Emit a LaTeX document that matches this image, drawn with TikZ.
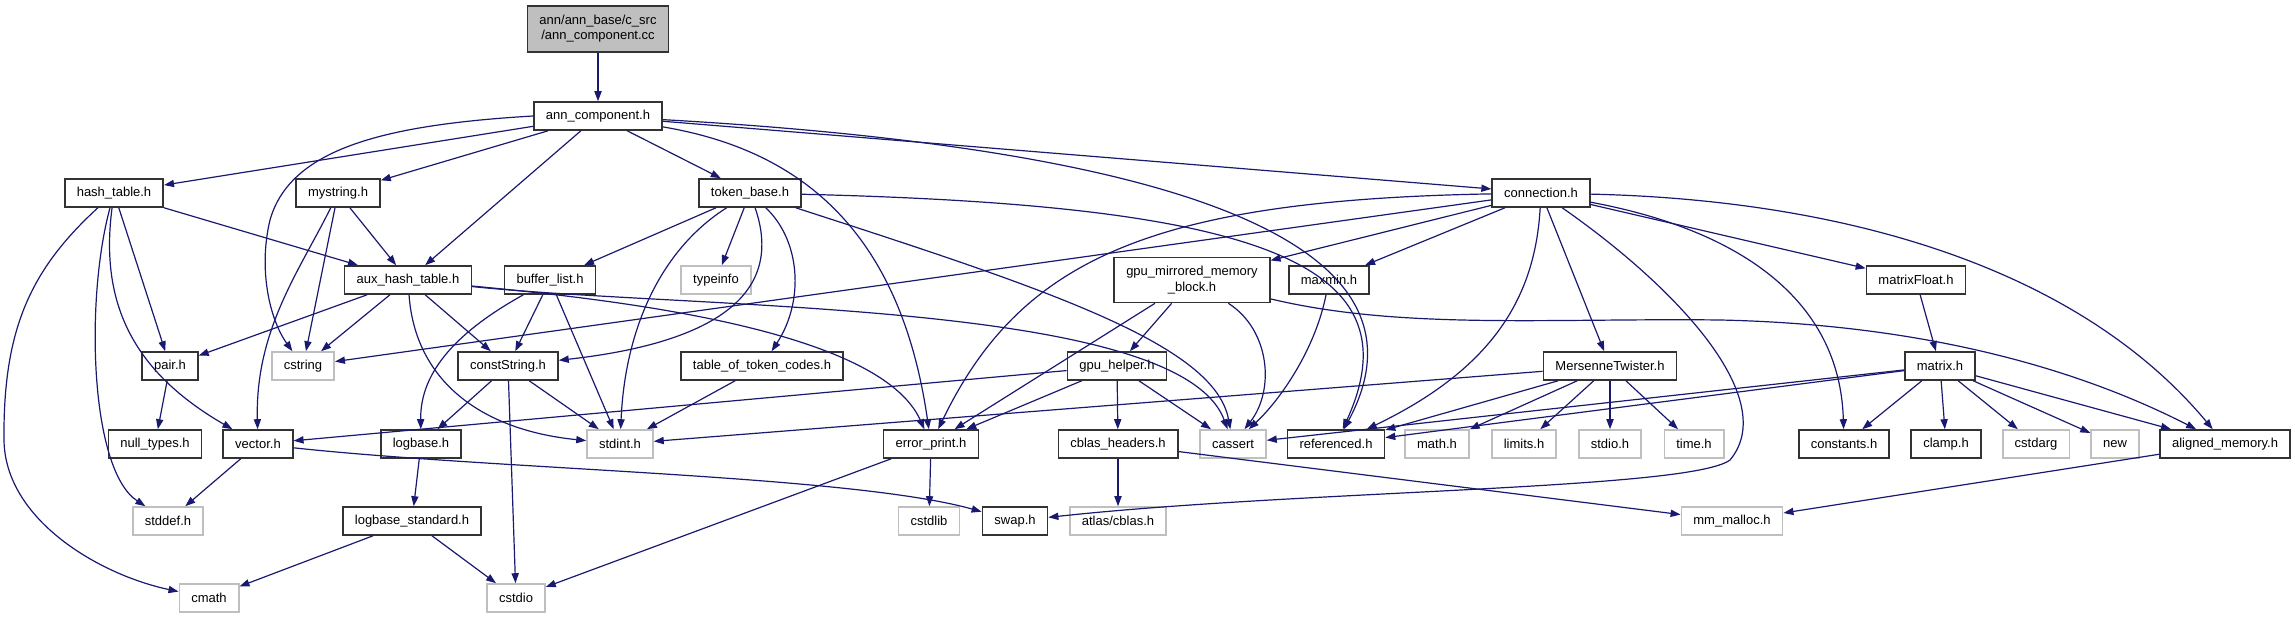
\documentclass[tikz,border=0pt]{standalone}
\usepackage{fontspec}
\setmainfont{Liberation Sans}
\usetikzlibrary{arrows.meta}
\definecolor{edgeblue}{HTML}{191970}
\definecolor{sysgray}{HTML}{BFBFBF}

\begin{document}
\begin{tikzpicture}[x=0.5pt, y=-0.5pt, font=\fontsize{6.5}{7.6}\selectfont,
  hdr/.style={draw=black!80, line width=0.8pt, fill=white, inner xsep=6pt,
              inner ysep=2pt, minimum height=14pt},
  sys/.style={hdr, draw=sysgray},
  root/.style={hdr, fill=sysgray, align=center, minimum height=23pt},
  dep/.style={draw=edgeblue, line width=0.6pt,
              -{Triangle[length=5pt, width=3.6pt]}}]
\useasboundingbox (0,0) rectangle (2295,619);

% rank 0 and 1
\node[root] (cc)   at (598,29)  {ann/ann\_base/c\_src\\/ann\_component.cc};
\node[hdr]  (annh) at (598,116) {ann\_component.h};

% rank 2
\node[hdr] (hasht) at (114,193)  {hash\_table.h};
\node[hdr] (mystr) at (338,193)  {mystring.h};
\node[hdr] (tokb)  at (750,193)  {token\_base.h};
\node[hdr] (conn)  at (1541,193) {connection.h};

% rank 3
\node[hdr] (auxh)     at (408,280)  {aux\_hash\_table.h};
\node[hdr] (bufl)     at (550,280)  {buffer\_list.h};
\node[sys] (typeinfo) at (716,280)  {typeinfo};
\node[hdr, align=center, minimum height=22.5pt] (gpumm) at (1192,280)
           {gpu\_mirrored\_memory\\\_block.h};
\node[hdr] (maxmin)   at (1329,280) {maxmin.h};
\node[hdr] (mfloat)   at (1916,280) {matrixFloat.h};

% rank 4
\node[hdr] (pair)    at (170,366)  {pair.h};
\node[sys] (cstring) at (303,366)  {cstring};
\node[hdr] (cstr)    at (508,366)  {constString.h};
\node[hdr] (ttc)     at (762,366)  {table\_of\_token\_codes.h};
\node[hdr] (gpuh)    at (1117,366) {gpu\_helper.h};
\node[hdr] (mt)      at (1610,366) {MersenneTwister.h};
\node[hdr] (matrix)  at (1940,366) {matrix.h};

% rank 5
\node[hdr] (nullt)   at (155,444)  {null\_types.h};
\node[hdr] (vector)  at (258,444)  {vector.h};
\node[hdr] (logb)    at (421,444)  {logbase.h};
\node[sys] (stdint)  at (620,444)  {stdint.h};
\node[hdr] (errp)    at (931,444)  {error\_print.h};
\node[hdr] (cblas)   at (1118,444) {cblas\_headers.h};
\node[sys] (cassert) at (1233,444) {cassert};
\node[hdr] (refd)    at (1336,444) {referenced.h};
\node[sys] (math)    at (1437,444) {math.h};
\node[sys] (limits)  at (1524,444) {limits.h};
\node[sys] (stdio)   at (1610,444) {stdio.h};
\node[sys] (time)    at (1694,444) {time.h};
\node[hdr] (consts)  at (1844,444) {constants.h};
\node[hdr] (clamp)   at (1946,444) {clamp.h};
\node[sys] (cstdarg) at (2036,444) {cstdarg};
\node[sys] (new)     at (2115,444) {new};
\node[hdr] (alignm)  at (2225,444) {aligned\_memory.h};

% rank 6 and 7
\node[sys] (stddef)  at (168,521)  {stddef.h};
\node[hdr] (logbs)   at (412,521)  {logbase\_standard.h};
\node[sys] (cstdlib) at (929,521)  {cstdlib};
\node[hdr] (swap)    at (1015,521) {swap.h};
\node[sys] (atlas)   at (1118,521) {atlas/cblas.h};
\node[sys] (mmalloc) at (1732,521) {mm\_malloc.h};
\node[sys] (cmath)   at (209,598)  {cmath};
\node[sys] (cstdio)  at (516,598)  {cstdio};

% ann_component
\draw[dep] (cc) -- (annh);
\draw[dep] (annh) -- (hasht);
\draw[dep] (annh) -- (mystr);
\draw[dep] (annh) -- (auxh);
\draw[dep] (annh) -- (tokb);
\draw[dep] (annh) -- (conn);
\draw[dep] (annh.west) .. controls (380,125) and (290,150) .. (270,220)
                       .. controls (258,270) and (270,320) .. (cstring);
\draw[dep] (annh) .. controls (800,150) and (900,230) .. (errp);
\draw[dep] (annh) .. controls (1200,150) and (1440,250) .. (refd);

% hash_table and mystring
\draw[dep] (hasht) -- (auxh);
\draw[dep] (hasht) -- (pair);
\draw[dep] (hasht) .. controls (100,300) and (130,370) .. (vector);
\draw[dep] (hasht) .. controls (85,300) and (90,470) .. (stddef);
\draw[dep] (hasht) .. controls (30,270) and (3,330) .. (4,440)
                   .. controls (5,520) and (100,575) .. (cmath);
\draw[dep] (mystr) -- (auxh);
\draw[dep] (mystr) -- (cstring);
\draw[dep] (mystr) .. controls (300,270) and (255,330) .. (vector);

% aux_hash_table
\draw[dep] (auxh) -- (pair);
\draw[dep] (auxh) -- (cstring);
\draw[dep] (auxh) -- (cstr);
\draw[dep] (auxh) .. controls (415,380) and (480,430) .. (stdint);
\draw[dep] (auxh) .. controls (620,300) and (880,330) .. (errp);
\draw[dep] (auxh) .. controls (700,310) and (1180,300) .. (cassert);

% token_base
\draw[dep] (tokb) -- (bufl);
\draw[dep] (tokb) -- (typeinfo);
\draw[dep] (tokb) .. controls (780,280) and (740,340) .. (cstr);
\draw[dep] (tokb) .. controls (800,240) and (805,300) .. (ttc);
\draw[dep] (tokb) .. controls (660,250) and (625,330) .. (stdint);
\draw[dep] (tokb) .. controls (1050,290) and (1215,345) .. (cassert);
\draw[dep] (tokb) .. controls (1250,205) and (1420,260) .. (refd);

% the headers below them
\draw[dep] (bufl) .. controls (460,330) and (420,370) .. (logb);
\draw[dep] (bufl) -- (cstr);
\draw[dep] (bufl) -- (stdint);
\draw[dep] (cstr) -- (logb);
\draw[dep] (cstr) -- (stdint);
\draw[dep] (cstr) -- (cstdio);
\draw[dep] (ttc) -- (stdint);
\draw[dep] (pair) -- (nullt);
\draw[dep] (vector) -- (stddef);
\draw[dep] (vector) .. controls (500,470) and (850,475) .. (swap);
\draw[dep] (logb) -- (logbs);
\draw[dep] (logbs) -- (cmath);
\draw[dep] (logbs) -- (cstdio);
\draw[dep] (errp) -- (cstdlib);
\draw[dep] (errp) -- (cstdio);

% connection
\draw[dep] (conn) -- (cstring);
\draw[dep] (conn) .. controls (1150,200) and (1020,260) .. (errp);
\draw[dep] (conn) -- (gpumm);
\draw[dep] (conn) -- (maxmin);
\draw[dep] (conn) .. controls (1535,300) and (1490,370) .. (refd);
\draw[dep] (conn) -- (mt);
\draw[dep] (conn) .. controls (1680,290) and (1780,400) .. (1730,460)
                  .. controls (1690,490) and (1300,490) .. (swap);
\draw[dep] (conn) .. controls (1740,230) and (1840,300) .. (consts);
\draw[dep] (conn) -- (mfloat);
\draw[dep] (conn) .. controls (1850,200) and (2080,270) .. (alignm);

% gpu memory side
\draw[dep] (gpumm) -- (gpuh);
\draw[dep] (gpumm) -- (errp);
\draw[dep] (gpumm) .. controls (1270,330) and (1275,390) .. (cassert);
\draw[dep] (gpumm) .. controls (1400,330) and (1550,318) .. (1720,320)
                   .. controls (1950,325) and (2100,380) .. (alignm);
\draw[dep] (maxmin) .. controls (1315,350) and (1280,400) .. (cassert);
\draw[dep] (gpuh) -- (vector);
\draw[dep] (gpuh) -- (errp);
\draw[dep] (gpuh) -- (cblas);
\draw[dep] (gpuh) -- (cassert);
\draw[dep] (cblas) -- (atlas);
\draw[dep] (cblas) -- (mmalloc);

% MersenneTwister and matrix
\draw[dep] (mt) -- (stdint);
\draw[dep] (mt) -- (refd);
\draw[dep] (mt) -- (math);
\draw[dep] (mt) -- (limits);
\draw[dep] (mt) -- (stdio);
\draw[dep] (mt) -- (time);
\draw[dep] (mfloat) -- (matrix);
\draw[dep] (matrix) -- (cassert);
\draw[dep] (matrix) -- (refd);
\draw[dep] (matrix) -- (consts);
\draw[dep] (matrix) -- (clamp);
\draw[dep] (matrix) -- (cstdarg);
\draw[dep] (matrix) -- (new);
\draw[dep] (matrix) -- (alignm);
\draw[dep] (alignm) -- (mmalloc);
\end{tikzpicture}
\end{document}
